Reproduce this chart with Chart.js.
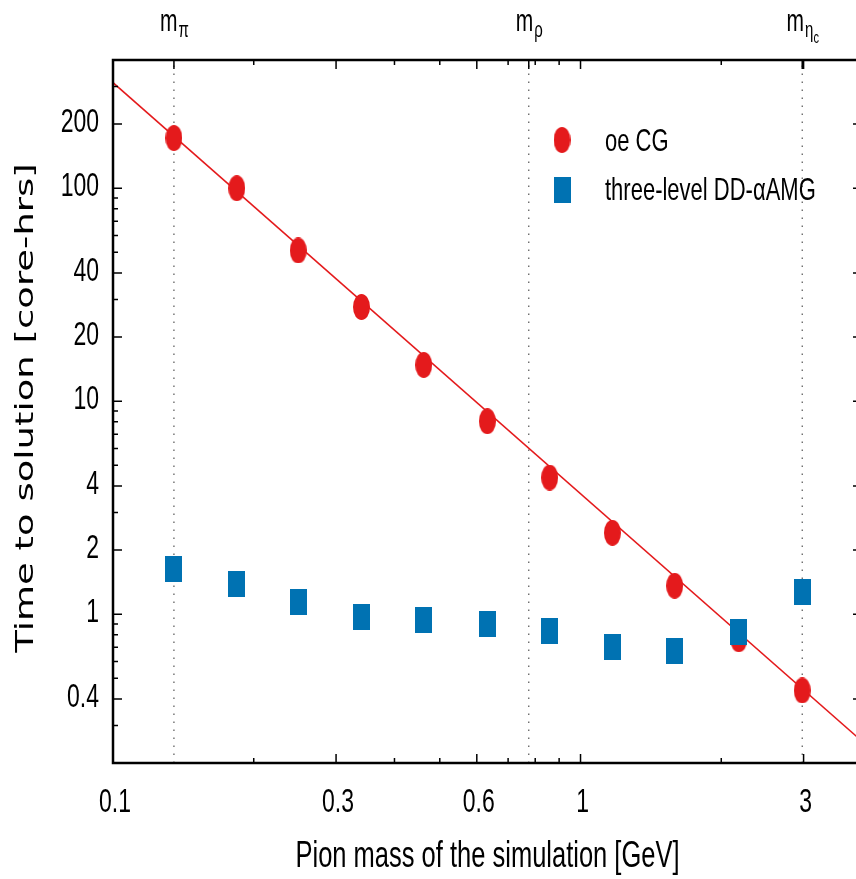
<!DOCTYPE html>
<html>
<head>
<meta charset="utf-8">
<script src="https://cdn.jsdelivr.net/npm/chart.js@4.4.1/dist/chart.umd.min.js"></script>
<style>
  html, body { margin: 0; padding: 0; overflow: hidden; background: #fff; }
</style>
</head>
<body>
<canvas id="timeChart" width="870" height="879"></canvas>
<script>
// ---- data ----
const pionMass = [0.135, 0.184, 0.249, 0.340, 0.462, 0.632, 0.859, 1.17, 1.59, 2.18, 2.98];
const cgHours  = [172, 100, 51, 27.7, 14.8, 8.05, 4.38, 2.41, 1.36, 0.762, 0.438];
const amgHours = [1.63, 1.39, 1.14, 0.97, 0.94, 0.90, 0.83, 0.70, 0.67, 0.82, 1.27];

// power-law fit through the oe CG points (end points of the drawn line)
const fitMass  = [0.1, 4];
const fitHours = [313, 0.253];

// reference hadron masses on the top axis
const refMass    = [0.135, 0.775, 2.98];
const refSub     = ['π', 'ρ', 'η'];
const refSubSub  = ['', '', 'c'];

const xRange = [0.1, 4];
const yRange = [0.2, 400];
const xTickLabels = [0.1, 0.3, 0.6, 1, 3];
const xMinorTicks = [0.2, 0.4, 0.5, 0.7, 0.8, 0.9, 2, 4];
const yTickLabels = [0.4, 1, 2, 4, 10, 20, 40, 100, 200];
const yMinorTicks = [0.3, 0.5, 0.6, 0.7, 0.8, 0.9, 3, 5, 6, 7, 8, 9, 30, 50, 60, 70, 80, 90, 300];

const cgRed   = '#e41a1c';
const amgBlue = '#0072b2';
const stretch = 1.45;   // text in the original is drawn tall and narrow

// marker images (tall ellipse / tall box, like the original)
function makeMarker(kind, color) {
  const c = document.createElement('canvas');
  c.width = 17; c.height = 26;
  const g = c.getContext('2d');
  g.fillStyle = color;
  if (kind === 'ellipse') {
    g.beginPath();
    g.ellipse(8.5, 13, 8.5, 13, 0, 0, Math.PI * 2);
    g.fill();
  } else {
    g.fillRect(0, 0, 17, 26);
  }
  return c;
}
const cgMarker  = makeMarker('ellipse', cgRed);
const amgMarker = makeMarker('rect', amgBlue);

function tallText(ctx, text, x, y, font, align, baseline) {
  ctx.save();
  ctx.translate(x, y);
  ctx.scale(1, stretch);
  ctx.font = font;
  ctx.textAlign = align;
  ctx.textBaseline = baseline || 'alphabetic';
  ctx.fillText(text, 0, 0);
  ctx.restore();
}

// frame, inward ticks and all text
const framePlugin = {
  id: 'frame',
  afterDraw(chart) {
    const { ctx, chartArea: a, scales: { x, y } } = chart;
    ctx.save();
    ctx.strokeStyle = '#000';
    ctx.fillStyle = '#000';

    // ticks
    ctx.lineWidth = 1.5;
    ctx.beginPath();
    const xTick = (v, len) => {
      const px = x.getPixelForValue(v);
      ctx.moveTo(px, a.bottom); ctx.lineTo(px, a.bottom - len);
      ctx.moveTo(px, a.top);    ctx.lineTo(px, a.top + len);
    };
    const yTick = (v, len) => {
      const py = y.getPixelForValue(v);
      ctx.moveTo(a.left, py);  ctx.lineTo(a.left + len, py);
      ctx.moveTo(a.right, py); ctx.lineTo(a.right - len, py);
    };
    xTickLabels.forEach(v => xTick(v, 9));
    xMinorTicks.forEach(v => xTick(v, 5));
    yTickLabels.forEach(v => yTick(v, 9));
    yMinorTicks.forEach(v => yTick(v, 5));
    refMass.forEach(v => {
      const px = x.getPixelForValue(v);
      ctx.moveTo(px, a.top); ctx.lineTo(px, a.top + 9);
    });
    ctx.stroke();

    // frame
    ctx.lineWidth = 2.5;
    ctx.strokeRect(a.left, a.top, a.right - a.left, a.bottom - a.top);

    // tick labels
    const tickFont = '23px "Liberation Sans", Arial, sans-serif';
    yTickLabels.forEach(v => {
      tallText(ctx, String(v), a.left - 14, y.getPixelForValue(v) + 8, tickFont, 'right');
    });
    xTickLabels.forEach(v => {
      tallText(ctx, String(v), x.getPixelForValue(v) + 2, 812, tickFont, 'center');
    });

    // top axis labels m_pi, m_rho, m_eta_c
    const baseFont = '21px "Liberation Sans", Arial, sans-serif';
    const subFont = '15px "Liberation Sans", Arial, sans-serif';
    const subSubFont = '11px "Liberation Sans", Arial, sans-serif';
    refMass.forEach((m, i) => {
      ctx.font = baseFont;  const w1 = ctx.measureText('m').width;
      ctx.font = subFont;   const w2 = ctx.measureText(refSub[i]).width;
      ctx.font = subSubFont; const w3 = refSubSub[i] ? ctx.measureText(refSubSub[i]).width : 0;
      const left = x.getPixelForValue(m) - (w1 + w2 + w3) / 2;
      tallText(ctx, 'm', left, 31, baseFont, 'left');
      tallText(ctx, refSub[i], left + w1 + 1, 37, subFont, 'left');
      if (refSubSub[i]) tallText(ctx, refSubSub[i], left + w1 + w2 + 1, 43, subSubFont, 'left');
    });

    // axis titles
    tallText(ctx, 'Pion mass of the simulation [GeV]', (a.left + a.right) / 2, 867,
             '25.5px "Liberation Sans", Arial, sans-serif', 'center');
    ctx.save();
    ctx.translate(33, 408);
    ctx.rotate(-Math.PI / 2);
    ctx.scale(stretch, 1);
    ctx.font = '25.5px "DejaVu Sans", sans-serif';
    ctx.textAlign = 'center';
    ctx.textBaseline = 'alphabetic';
    ctx.fillText('Time to solution [core-hrs]', 0, 0);
    ctx.restore();

    // legend
    const legendFont = '22px "Liberation Sans", Arial, sans-serif';
    ctx.drawImage(cgMarker, 562 - 8.5, 140 - 13);
    tallText(ctx, chart.data.datasets[0].label, 605, 151, legendFont, 'left');
    ctx.drawImage(amgMarker, 562 - 8.5, 190 - 13);
    tallText(ctx, chart.data.datasets[1].label, 605, 200, legendFont, 'left');

    ctx.restore();
  }
};

const refLines = refMass.map(m => ({
  type: 'line',
  label: 'ref',
  data: [{ x: m, y: yRange[0] }, { x: m, y: yRange[1] }],
  borderColor: '#555',
  borderWidth: 1.2,
  borderDash: [1.5, 6.5],
  pointRadius: 0,
  order: 5
}));

new Chart(document.getElementById('timeChart'), {
  type: 'scatter',
  data: {
    datasets: [
      {
        label: 'oe CG',
        data: pionMass.map((m, i) => ({ x: m, y: cgHours[i] })),
        pointStyle: cgMarker,
        backgroundColor: cgRed,
        order: 2
      },
      {
        label: 'three-level DD-αAMG',
        data: pionMass.map((m, i) => ({ x: m, y: amgHours[i] })),
        pointStyle: amgMarker,
        backgroundColor: amgBlue,
        order: 1
      },
      {
        type: 'line',
        label: 'fit',
        data: fitMass.map((m, i) => ({ x: m, y: fitHours[i] })),
        borderColor: cgRed,
        borderWidth: 1.6,
        pointRadius: 0,
        order: 3
      },
      ...refLines
    ]
  },
  options: {
    responsive: false,
    animation: false,
    devicePixelRatio: 1,
    layout: { padding: { top: 60, right: 8, left: 0, bottom: 0 } },
    plugins: {
      legend: { display: false },
      tooltip: { enabled: false }
    },
    scales: {
      x: {
        type: 'logarithmic',
        min: xRange[0],
        max: xRange[1],
        ticks: { display: false },
        grid: { display: false, drawTicks: false },
        border: { display: false },
        afterFit: s => { s.height = 116; }
      },
      y: {
        type: 'logarithmic',
        min: yRange[0],
        max: yRange[1],
        ticks: { display: false },
        grid: { display: false, drawTicks: false },
        border: { display: false },
        afterFit: s => { s.width = 113; }
      }
    }
  },
  plugins: [framePlugin]
});
</script>
</body>
</html>
